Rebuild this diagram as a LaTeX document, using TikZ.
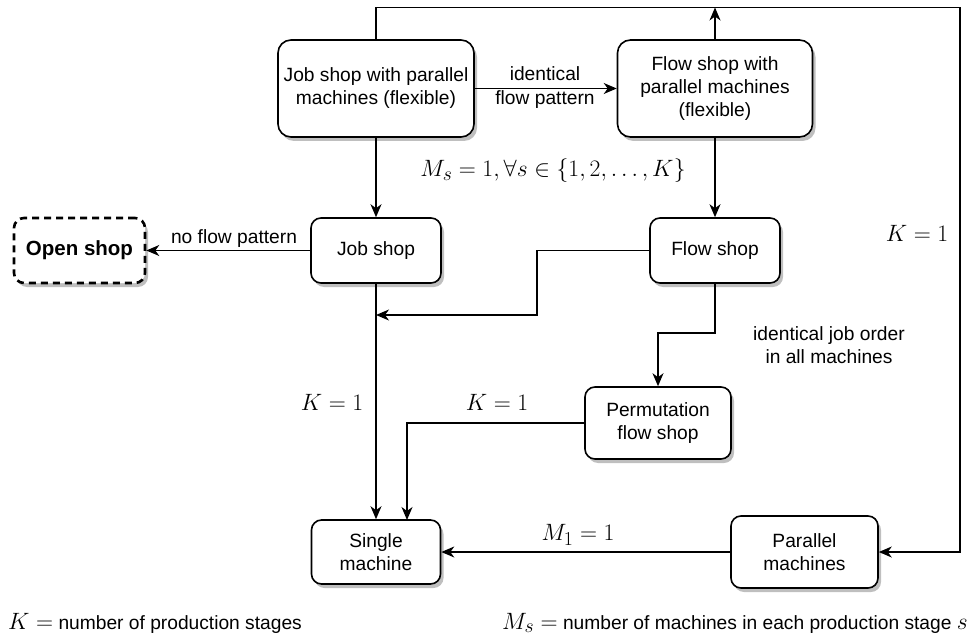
\documentclass[tikz,border=0pt]{standalone}
\usepackage{fontspec}
\setmainfont{Liberation Sans}
\usetikzlibrary{arrows.meta,shadows}
\newcommand{\mf}{\fontsize{24.88}{30}\selectfont}
\newcommand{\tf}{\fontsize{19.2}{23}\selectfont}
\newcommand{\mth}[1]{\scalebox{0.95}{\mf$#1$}}
\begin{document}
\begin{tikzpicture}[x=1pt,y=-1pt,
  box/.style={draw, line width=1.6pt, rounded corners=10pt, align=center, fill=white,
    inner sep=0pt, font=\tf,
    drop shadow={shadow xshift=3pt,shadow yshift=-4pt,opacity=0.25,fill=black}},
  conn/.style={line width=1.2pt, -{Stealth[length=13pt,width=11pt,inset=4pt]}},
  lbl/.style={font=\tf, align=center, inner sep=0pt},
  mlbl/.style={inner sep=0pt}]
\useasboundingbox (0,0) rectangle (971,639);

% nodes
\node[box, minimum width=196pt, minimum height=97pt, rounded corners=13pt] (jsp) at (376,88.5) {Job shop with parallel\\machines (flexible)};
\node[box, minimum width=195pt, minimum height=97pt, rounded corners=13pt] (fsp) at (715,88.5) {Flow shop with\\parallel machines\\(flexible)};
\node[box, minimum width=130pt, minimum height=65pt] (js) at (376,250.5) {Job shop};
\node[box, minimum width=130pt, minimum height=65pt] (fs) at (715,250.5) {Flow shop};
\node[box, minimum width=131pt, minimum height=65pt, dash pattern=on 7pt off 5pt, line width=2.6pt, font=\fontsize{20.5}{24}\selectfont\bfseries] (os) at (79.5,250.5) {Open shop};
\node[box, minimum width=146pt, minimum height=72pt] (pfs) at (658,423) {Permutation\\flow shop};
\node[box, minimum width=129pt, minimum height=64pt] (sm) at (376,552) {Single\\machine};
\node[box, minimum width=147pt, minimum height=72pt] (pm) at (804.5,552) {Parallel\\machines};

% coordinates
\coordinate (tl) at (376,7.5);
\coordinate (tr) at (960,7.5);
\coordinate (br) at (960,552);
\coordinate (ftop) at (715,7.5);
\coordinate (j1) at (376,315);
\coordinate (fa) at (537,250.5);
\coordinate (fb) at (537,315);
\coordinate (pa) at (715,333);
\coordinate (pb) at (658,333);
\coordinate (qa) at (407,423);
\coordinate (qb) at (407,520);

% connectors
\draw[conn] (jsp.north) -- (tl) -- (tr) -- (br) -- (pm.east);
\draw[conn] (fsp.north) -- (ftop);
\draw[conn] (jsp.east) -- (fsp.west);
\draw[conn] (jsp.south) -- (js.north);
\draw[conn] (fsp.south) -- (fs.north);
\draw[conn] (js.west) -- (os.east);
\draw[conn] (fs.west) -- (fa) -- (fb) -- (j1);
\draw[conn] (js.south) -- (sm.north);
\draw[conn] (fs.south) -- (pa) -- (pb) -- (pfs.north);
\draw[conn] (pfs.west) -- (qa) -- (qb);
\draw[conn] (pm.west) -- (sm.east);

% labels
\node[lbl] (l1) at (545,88) {identical\\[1pt]flow pattern};
\node[mlbl] (l2) at (553,171) {\mth{M_s=1,\forall s\in\{1,2,\ldots,K\}}};
\node[lbl] (l3) at (234,239) {no flow pattern};
\node[mlbl] (l4) at (917,233) {\mth{K=1}};
\node[lbl] (l5) at (829,345) {identical job order\\in all machines};
\node[mlbl] (l6) at (332,402) {\mth{K=1}};
\node[mlbl] (l7) at (497,402) {\mth{K=1}};
\node[mlbl] (l8) at (578,535) {\mth{M_1=1}};
\node[lbl, anchor=west] (n1) at (8,623) {\mth{K=} number of production stages};
\node[lbl, anchor=east] (n2) at (968,623) {\mth{M_s=} number of machines in each production stage \mth{s}};
\end{tikzpicture}
\end{document}
